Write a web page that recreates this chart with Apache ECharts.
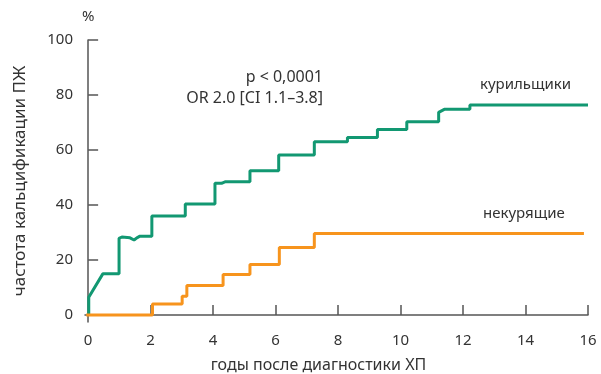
<!DOCTYPE html>
<html>
<head>
<meta charset="utf-8">
<script src="https://cdn.jsdelivr.net/npm/echarts@6/dist/echarts.min.js"></script>
<style>
  html, body { margin: 0; padding: 0; background: #fff; }
  #chart { width: 601px; height: 374px; }
</style>
</head>
<body>
<div id="chart"></div>
<script>
// Cumulative incidence of pancreatic calcification, [years, percent] vertices
const smokers = [
  [0.02, 0], [0.02, 6.5], [0.47, 15], [0.99, 15], [0.99, 27.9],
  [1.08, 28.4], [1.34, 28.1], [1.47, 27.3], [1.56, 28.1], [1.66, 28.7],
  [2.04, 28.7], [2.04, 36], [3.11, 36], [3.11, 40.4],
  [4.06, 40.4], [4.06, 47.9], [4.27, 47.9], [4.4, 48.5], [5.18, 48.5],
  [5.18, 52.5], [6.1, 52.5], [6.1, 58.2], [7.24, 58.2], [7.24, 63],
  [8.3, 63], [8.3, 64.6], [9.26, 64.6], [9.26, 67.5], [10.2, 67.5],
  [10.2, 70.3], [11.22, 70.3], [11.22, 73.7], [11.4, 74.8], [12.22, 74.8],
  [12.22, 76.4], [16.0, 76.4]
];
const nonSmokers = [
  [-0.06, 0], [2.06, 0], [2.06, 4], [3.01, 4], [3.01, 6.9], [3.16, 6.9],
  [3.16, 10.8], [4.32, 10.8], [4.32, 14.8], [5.18, 14.8], [5.18, 18.4],
  [6.12, 18.4], [6.12, 24.6], [7.24, 24.6], [7.24, 29.7], [15.87, 29.7]
];
const xTicks = [0, 2, 4, 6, 8, 10, 12, 14, 16];
const yTicks = [0, 20, 40, 60, 80, 100];

const FONT = 'Noto Sans';
const TEXT = '#333333';
const AXIS = '#555555';

const chart = echarts.init(document.getElementById('chart'));
chart.setOption({
  animation: false,
  backgroundColor: '#ffffff',
  textStyle: { fontFamily: FONT },
  grid: { left: 85, right: 13, top: 40, bottom: 52, outerBoundsMode: 'none' },
  xAxis: {
    type: 'value',
    min: -0.1,
    max: 16,
    name: 'годы после диагностики ХП',
    nameLocation: 'middle',
    nameGap: 35,
    nameTextStyle: { fontSize: 16, color: TEXT, fontFamily: FONT, padding: [0, 36, 0, 0] },
    axisLine: { show: true, lineStyle: { color: AXIS, width: 1.5 } },
    axisTick: { show: true, inside: true, length: 10, customValues: xTicks.slice(1),
      lineStyle: { color: AXIS, width: 1.5 } },
    axisLabel: { customValues: xTicks, fontSize: 15, color: TEXT, margin: 11, fontFamily: FONT },
    splitLine: { show: false }
  },
  yAxis: {
    type: 'value',
    min: -2.5,
    max: 100,
    name: 'частота кальцификации ПЖ',
    nameLocation: 'middle',
    nameGap: 56,
    nameRotate: 90,
    nameTextStyle: { fontSize: 17, color: TEXT, fontFamily: FONT },
    axisLine: { show: true, lineStyle: { color: AXIS, width: 1.5 } },
    axisTick: { show: true, inside: true, length: 10, customValues: yTicks.slice(1),
      lineStyle: { color: AXIS, width: 1.5 } },
    axisLabel: { customValues: yTicks, fontSize: 15, color: TEXT, margin: 12, fontFamily: FONT },
    splitLine: { show: false }
  },
  graphic: [
    { type: 'text', left: 82, top: 9, style: { text: '%', fontSize: 15, fill: TEXT, fontFamily: FONT } },
    { type: 'text', right: 601 - 323, top: 69, style: { text: 'p < 0,0001', fontSize: 16, fill: TEXT, fontFamily: FONT, align: 'right' } },
    { type: 'text', right: 601 - 323, top: 90, style: { text: 'OR 2.0 [CI 1.1–3.8]', fontSize: 16, fill: TEXT, fontFamily: FONT, align: 'right' } },
    { type: 'text', left: 480, top: 77, style: { text: 'курильщики', fontSize: 15, fill: TEXT, fontFamily: FONT } },
    { type: 'text', left: 483, top: 206, style: { text: 'некурящие', fontSize: 15, fill: TEXT, fontFamily: FONT } }
  ],
  series: [
    {
      name: 'некурящие',
      type: 'line',
      data: nonSmokers,
      showSymbol: false,
      lineStyle: { color: '#f7941d', width: 3 },
      itemStyle: { color: '#f7941d' },
      z: 3
    },
    {
      name: 'курильщики',
      type: 'line',
      data: smokers,
      showSymbol: false,
      lineStyle: { color: '#129872', width: 3 },
      itemStyle: { color: '#129872' },
      z: 2
    }
  ]
});
</script>
</body>
</html>
